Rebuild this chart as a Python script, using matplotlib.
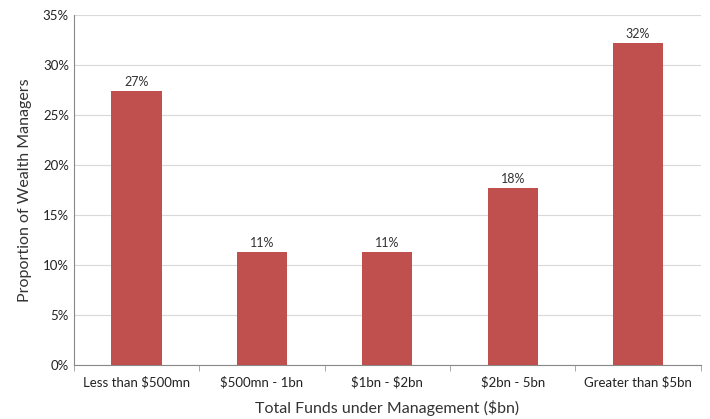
import matplotlib.pyplot as plt
import numpy as np
from matplotlib.ticker import FuncFormatter

categories = ['Less than $500mn', '$500mn - 1bn', '$1bn - $2bn', '$2bn - 5bn', 'Greater than $5bn']
values = [27.4, 11.3, 11.3, 17.7, 32.2]
labels = ['27%', '11%', '11%', '18%', '32%']

plt.rcParams['font.family'] = ['Lato', 'DejaVu Sans']

fig = plt.figure(figsize=[7.1, 4.19], dpi=100)
ax = fig.add_axes([0.104, 0.129, 0.883, 0.835])

x = np.arange(len(categories))
bars = ax.bar(x, values, width=0.4, color='#C0504D', zorder=3)
for b, lab in zip(bars, labels):
    ax.text(b.get_x() + b.get_width() / 2, b.get_height() + 0.3, lab,
            ha='center', va='bottom', fontsize=9, color='#333333')

ax.set_xlim(-0.5, len(categories) - 0.5)
ax.set_ylim(0, 35)
ax.set_yticks(np.arange(0, 36, 5))
ax.yaxis.set_major_formatter(FuncFormatter(lambda v, p: '%d%%' % v))
ax.grid(axis='y', color='#d9d9d9', linewidth=0.8, zorder=0)

ax.set_xticks(x)
ax.set_xticklabels([c.replace('$', r'\$') for c in categories])
ax.set_xticks(np.arange(-0.5, len(categories), 1), minor=True)
ax.tick_params(axis='x', which='major', length=0, pad=8, labelsize=9.5, colors='#222222')
ax.tick_params(axis='x', which='minor', length=4, color='#999999')
ax.tick_params(axis='y', length=0, labelsize=9.5, colors='#222222')

for s in ['top', 'right']:
    ax.spines[s].set_visible(False)
ax.spines['left'].set_color('#888888')
ax.spines['bottom'].set_color('#888888')

ax.set_xlabel('Total Funds under Management ($bn)', fontsize=11.5, color='#333333', labelpad=8)
ax.set_ylabel('Proportion of Wealth Managers', fontsize=11.5, color='#333333', labelpad=8)

plt.savefig('out.png')
